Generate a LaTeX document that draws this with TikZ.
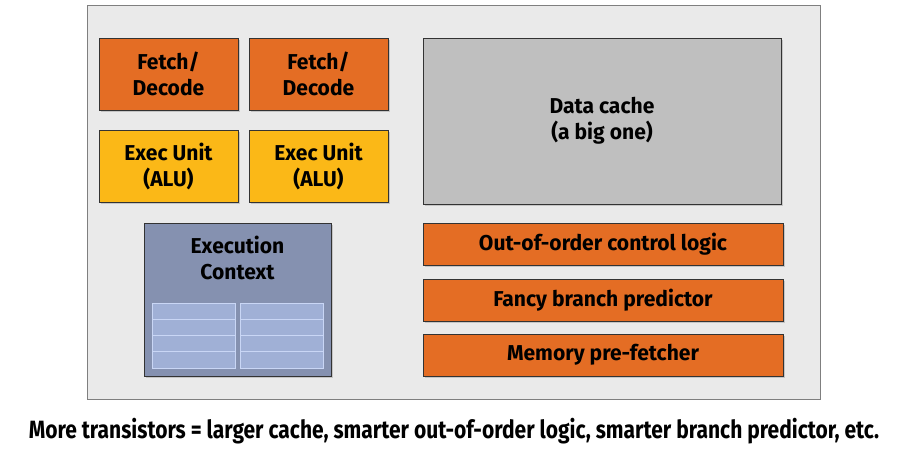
\documentclass[tikz,border=0pt]{standalone}
\usepackage{fontspec}
\setmainfont{Fira Sans}
\newfontfamily\boxfont{Fira Sans}[FakeStretch=0.98]
\newfontfamily\notefont{Fira Sans}[FakeStretch=0.84]
\usetikzlibrary{shadows}

\definecolor{chipgray}{HTML}{EAEAEA}
\definecolor{chipline}{HTML}{7F7F7F}
\definecolor{fdorange}{HTML}{E46D24}
\definecolor{aluyellow}{HTML}{FBB817}
\definecolor{cachegray}{HTML}{BFBFBF}
\definecolor{ctxblue}{HTML}{8591B0}
\definecolor{regfill}{HTML}{A0B0D6}
\definecolor{regline}{HTML}{C9D6F5}

\tikzset{
  unit/.style={draw=black!80, line width=0.9pt, align=center,
    font=\boxfont\bfseries\fontsize{21.5}{26}\selectfont,
    drop shadow={shadow xshift=1.5pt, shadow yshift=-1.5pt, opacity=0.35}},
  fdbox/.style={unit, fill=fdorange, minimum width=139pt, minimum height=72pt},
  alubox/.style={unit, fill=aluyellow, minimum width=139pt, minimum height=72pt},
  barbox/.style={unit, fill=fdorange, minimum width=360pt, minimum height=42pt},
  reg/.style={draw=regline, fill=regfill, line width=0.9pt}
}

\begin{document}
\begin{tikzpicture}[x=1pt, y=-1pt]

  \useasboundingbox (0,0) rectangle (902,453);

  % Chip outline
  \draw [fill=chipgray, draw=chipline, line width=1pt] (87,5) rectangle (820,399);

  % Fetch/decode and ALUs
  \node [fdbox] (FD1) at (168.5,74) {Fetch/\\Decode};
  \node [fdbox] (FD2) at (318.5,74) {Fetch/\\Decode};
  \node [alubox] (ALU1) at (168.5,166) {Exec Unit\\(ALU)};
  \node [alubox] (ALU2) at (318.5,166) {Exec Unit\\(ALU)};

  % Execution context
  \node [unit, fill=ctxblue, minimum width=187pt, minimum height=153pt] (CTX) at (237.5,299.5) {};
  \node [align=center, font=\boxfont\bfseries\fontsize{21.5}{26}\selectfont] (CTXlabel) at (237.5,258) {Execution\\Context};
  \foreach \x in {152,240} {
    \foreach \r in {0,...,3} {
      \draw [reg] (\x,303+16.25*\r) rectangle ++(83,16.25);
    }
  }

  % Data cache
  \node [unit, fill=cachegray, minimum width=358pt, minimum height=166pt] (CACHE) at (602,121) {Data cache\\(a big one)};

  % Extra logic
  \node [barbox] (OOO) at (603,244) {Out-of-order control logic};
  \node [barbox] (BP) at (603,300) {Fancy branch predictor};
  \node [barbox] (PF) at (603,355) {Memory pre-fetcher};

  % Caption
  \node [font=\notefont\bfseries\fontsize{25}{29}\selectfont] (NOTE) at (454,431) {More transistors = larger cache, smarter out-of-order logic, smarter branch predictor, etc.};

\end{tikzpicture}
\end{document}
